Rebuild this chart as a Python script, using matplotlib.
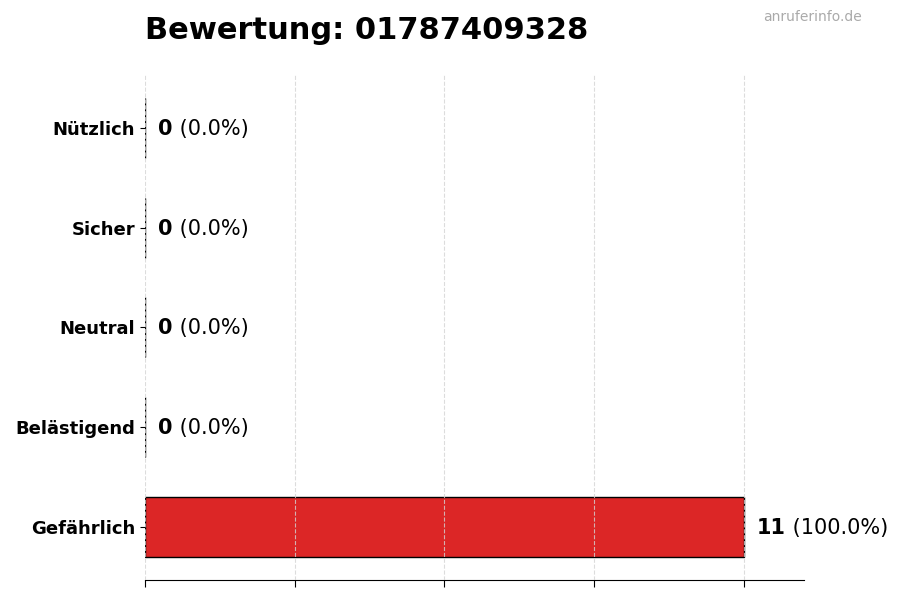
import numpy as np
import matplotlib.pyplot as plt

# Ratings data (bottom to top)
categories = ["Gefährlich", "Belästigend", "Neutral", "Sicher", "Nützlich"]
counts = [11, 0, 0, 0, 0]
colors = ["#dc2626", "#f97316", "#9ca3af", "#22c55e", "#16a34a"]
title = "Bewertung: 01787409328"
watermark = "anruferinfo.de"

total = sum(counts)
max_val = max(counts)

fig = plt.figure(figsize=(9, 6), dpi=100)
ax = fig.add_axes([0.161, 0.0333, 0.732, 0.842])

y = np.arange(len(categories))
ax.barh(y, counts, height=0.6, color=colors, edgecolor="black", linewidth=1, zorder=1)

# value labels: bold count + normal percentage
offset = max_val * 0.022
for yi, c in zip(y, counts):
    pct = c / total * 100 if total else 0
    t = ax.text(c + offset, yi - 0.01, f"{c}", fontsize=15, fontweight="bold",
                va="center", ha="left")
    ax.annotate(f" ({pct:.1f}%)", xy=(1, 0.5), xycoords=t, fontsize=15,
                va="center", ha="left")

ax.set_yticks(y)
ax.set_yticklabels(categories, fontsize=13, fontweight="bold")
ax.set_xlim(0, max_val * 1.1)
ax.set_xticks(np.linspace(0, max_val, 5))
ax.set_xticklabels([])
ax.tick_params(axis="x", length=5)

ax.grid(axis="x", linestyle="--", color="#d4d4d4", alpha=0.8, zorder=2)
ax.set_axisbelow(False)
for s in ["top", "right", "left"]:
    ax.spines[s].set_visible(False)

fig.text(0.161, 1 - 39 / 600, title, fontsize=22, fontweight="bold",
         ha="left", va="baseline")
fig.text(0.958, 1 - 17 / 600, watermark, fontsize=10, color="#aaaaaa",
         ha="right", va="center")

fig.savefig("out.png", dpi=100)
